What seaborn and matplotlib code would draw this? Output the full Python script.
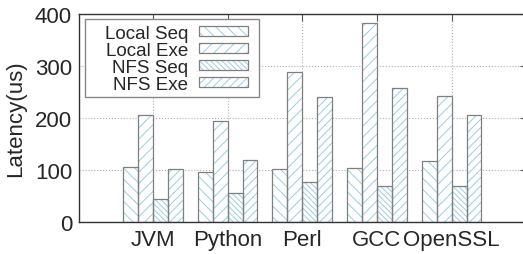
import matplotlib
matplotlib.use("Agg")
import matplotlib.pyplot as plt
from matplotlib.patches import Patch, Rectangle
from matplotlib.ticker import MultipleLocator
import numpy as np
import pandas as pd
import seaborn as sns

# ── Data ──────────────────────────────────────────────────────────────────────
apps = ["JVM", "Python", "Perl", "GCC", "OpenSSL"]
series = ["Local Seq", "Local Exe", "NFS Seq", "NFS Exe"]
local_seq = [105, 97, 101, 103, 117]
local_exe = [206, 195, 288, 383, 243]
nfs_seq = [44, 55, 76, 70, 70]
nfs_exe = [101, 119, 240, 257, 206]

hatches = ["\\\\\\", "///", "\\\\\\\\\\\\", "////"]
HATCH_COLOR = "#9ccde0"
EDGE_COLOR = "#7f7f7f"

df = pd.DataFrame({
    "app": np.tile(apps, len(series)),
    "kind": np.repeat(series, len(apps)),
    "latency": local_seq + local_exe + nfs_seq + nfs_exe,
})

# ── Style ─────────────────────────────────────────────────────────────────────
sns.set_style("white")
plt.rcParams["font.family"] = ["Liberation Sans", "DejaVu Sans"]
plt.rcParams["hatch.linewidth"] = 0.7

fig = plt.figure(figsize=(5.23, 2.55), dpi=100)
ax = fig.add_axes([79 / 523, 32 / 255, 448 / 523, 208 / 255])

sns.barplot(data=df, x="app", y="latency", hue="kind", order=apps,
            hue_order=series, palette=["white"] * 4, saturation=1,
            linewidth=0, legend=False, ax=ax)

# hatch in light blue, grey outline drawn on top
for cont, h in zip(ax.containers, hatches):
    for bar in cont:
        bar.set_facecolor("white")
        bar.set_edgecolor(HATCH_COLOR)
        bar.set_linewidth(0)
        bar.set_hatch(h)
        ax.add_patch(Rectangle(bar.get_xy(), bar.get_width(), bar.get_height(),
                               fill=False, edgecolor=EDGE_COLOR, linewidth=0.9,
                               zorder=bar.get_zorder() + 0.1))

ax.set_xlim(-0.99, 5.01)
ax.set_ylim(0, 400)
ax.yaxis.set_major_locator(MultipleLocator(100))
ax.yaxis.set_minor_locator(MultipleLocator(50))
ax.set_axisbelow(True)
ax.grid(True, which="major", linestyle=":", linewidth=0.8, color="#b0b0b0")

ax.tick_params(axis="both", which="both", direction="in", top=True, right=True,
               color="#555555", width=0.8)
ax.tick_params(axis="both", which="major", length=5, labelsize=16)
ax.tick_params(axis="y", which="minor", length=3)
ax.tick_params(axis="y", pad=5)
ax.tick_params(axis="x", pad=5)

for s in ax.spines.values():
    s.set_color("#333333")
    s.set_linewidth(1.0)

ax.set_xlabel("")
ax.set_ylabel("Latency(us)", fontsize=16, labelpad=6)

# legend: gnuplot-style box (labels right-aligned, keys on the right)
ax.add_patch(Rectangle((0.0134, 0.601), 0.3884, 0.375, transform=ax.transAxes,
                       facecolor="white", edgecolor="#888888", linewidth=1.0,
                       zorder=4.5, clip_on=False))
handles = [
    (Patch(facecolor="white", edgecolor=HATCH_COLOR, linewidth=0, hatch=h),
     Patch(fill=False, edgecolor=EDGE_COLOR, linewidth=0.9))
    for h in hatches
]
leg = ax.legend(handles, series, loc="upper right", bbox_to_anchor=(0.3772, 0.9495),
                borderaxespad=0, borderpad=0, markerfirst=False, fontsize=13.5,
                handlelength=2.61, handleheight=0.5, handletextpad=0.59,
                labelspacing=0.0, frameon=False)
leg.set_zorder(5)

fig.savefig("out.png", dpi=100)
